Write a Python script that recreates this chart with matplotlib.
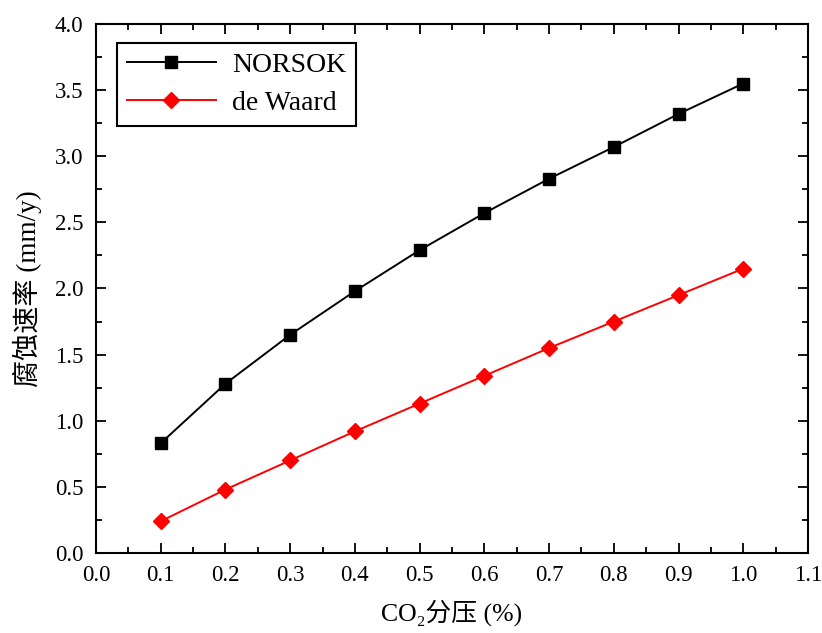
import numpy as np
import matplotlib.pyplot as plt
from matplotlib.ticker import MultipleLocator

plt.rcParams['font.family'] = ['Liberation Serif', 'Noto Sans CJK SC']

co2 = [0.1, 0.2, 0.3, 0.4, 0.5, 0.6, 0.7, 0.8, 0.9, 1.0]
norsok = [0.83, 1.28, 1.65, 1.98, 2.29, 2.57, 2.83, 3.07, 3.32, 3.55]
de_waard = [0.24, 0.48, 0.70, 0.92, 1.13, 1.34, 1.55, 1.75, 1.95, 2.15]

fig = plt.figure(figsize=(8.22, 6.33), dpi=100)
ax = fig.add_axes([0.1168, 0.1264, 0.8662, 0.8357])

ax.plot(co2, norsok, color='black', lw=1.4, marker='s', markersize=9, label='NORSOK')
ax.plot(co2, de_waard, color='red', lw=1.4, marker='D', markersize=8, label='de Waard')

ax.set_xlim(0.0, 1.1)
ax.set_ylim(0.0, 4.0)
ax.xaxis.set_major_locator(MultipleLocator(0.1))
ax.xaxis.set_minor_locator(MultipleLocator(0.05))
ax.yaxis.set_major_locator(MultipleLocator(0.5))
ax.yaxis.set_minor_locator(MultipleLocator(0.25))
ax.xaxis.set_major_formatter(plt.FuncFormatter(lambda v, p: f'{v:.1f}'))
ax.yaxis.set_major_formatter(plt.FuncFormatter(lambda v, p: f'{v:.1f}'))
ax.tick_params(which='both', direction='in', top=True, right=True, labelsize=16.5, width=1.3)
ax.tick_params(which='major', length=7, pad=9)
ax.tick_params(which='minor', length=4)
for s in ax.spines.values():
    s.set_linewidth(1.5)

ax.set_xlabel('CO₂分压 (%)', fontsize=18.5, labelpad=9)
ax.set_ylabel('腐蚀速率 (mm/y)', fontsize=19.5, labelpad=9)

leg = ax.legend(loc='upper left', bbox_to_anchor=(0.0295, 0.964), fontsize=20,
                fancybox=False, edgecolor='black', framealpha=1, handlelength=3.2,
                borderpad=0.35, labelspacing=0.45, borderaxespad=0, handletextpad=0.6)
leg.get_frame().set_linewidth(1.5)

fig.savefig('out.png', dpi=100)
